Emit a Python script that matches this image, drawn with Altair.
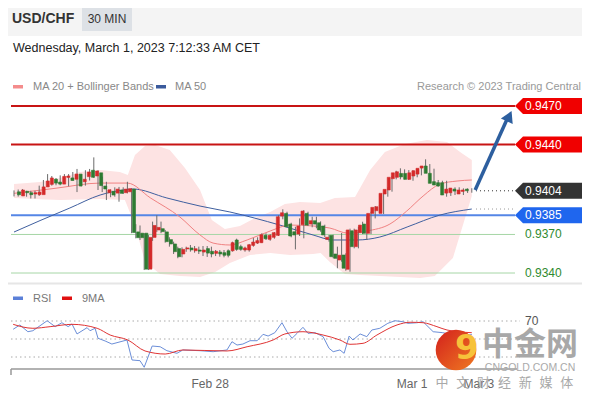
import altair as alt
import pandas as pd

FONT = "Liberation Sans"
CJK = "Noto Sans CJK SC"

pair = "USD/CHF"
timeframe = "30 MIN"
stamp = "Wednesday, March 1, 2023 7:12:33 AM CET"

# ---- 30-min candles (price quotes) ----
c_open = [0.94032, 0.94000, 0.94036, 0.94025, 0.94015, 0.94010, 0.94010, 0.94070, 0.94090, 0.94130,
          0.94108, 0.94092, 0.94144, 0.94140, 0.94130, 0.94170, 0.94110, 0.94150, 0.94200, 0.94155,
          0.94180, 0.94077, 0.94025, 0.94036, 0.94022, 0.94046, 0.94025, 0.94032, 0.94053, 0.93720,
          0.93710, 0.93710, 0.93430, 0.93677, 0.93735, 0.93745, 0.93720, 0.93660, 0.93626, 0.93590,
          0.93548, 0.93587, 0.93595, 0.93573, 0.93579, 0.93563, 0.93590, 0.93569, 0.93553, 0.93563,
          0.93558, 0.93573, 0.93573, 0.93657, 0.93605, 0.93579, 0.93579, 0.93615, 0.93633, 0.93636,
          0.93693, 0.93662, 0.93678, 0.93693, 0.93843, 0.93864, 0.93781, 0.93721, 0.93703, 0.93776,
          0.93864, 0.93781, 0.93807, 0.93791, 0.93766, 0.93662, 0.93693, 0.93548, 0.93501, 0.93540,
          0.93429, 0.93729, 0.93605, 0.93714, 0.93781, 0.93709, 0.93864, 0.93885, 0.93864, 0.94015,
          0.94046, 0.94134, 0.94145, 0.94175, 0.94175, 0.94129, 0.94155, 0.94170, 0.94217, 0.94233,
          0.94176, 0.94111, 0.94103, 0.94103, 0.94022, 0.94025, 0.94053, 0.94015, 0.94035, 0.94053]
c_high = [0.94043, 0.94050, 0.94054, 0.94040, 0.94040, 0.94040, 0.94080, 0.94124, 0.94170, 0.94155,
          0.94139, 0.94160, 0.94170, 0.94170, 0.94186, 0.94210, 0.94150, 0.94200, 0.94210, 0.94300,
          0.94200, 0.94150, 0.94110, 0.94050, 0.94067, 0.94070, 0.94067, 0.94110, 0.94060, 0.93780,
          0.93770, 0.93710, 0.93695, 0.93800, 0.93850, 0.93800, 0.93735, 0.93678, 0.93644, 0.93605,
          0.93600, 0.93605, 0.93618, 0.93610, 0.93605, 0.93610, 0.93610, 0.93605, 0.93579, 0.93579,
          0.93579, 0.93584, 0.93644, 0.93667, 0.93620, 0.93605, 0.93626, 0.93672, 0.93678, 0.93709,
          0.93709, 0.93703, 0.93719, 0.93851, 0.93896, 0.93877, 0.93791, 0.93760, 0.93825, 0.93890,
          0.93877, 0.93838, 0.93838, 0.93802, 0.93776, 0.93696, 0.93698, 0.93605, 0.93711, 0.93553,
          0.93745, 0.93745, 0.93760, 0.93799, 0.93843, 0.93877, 0.93921, 0.93929, 0.94025, 0.94067,
          0.94155, 0.94196, 0.94215, 0.94207, 0.94201, 0.94201, 0.94212, 0.94233, 0.94285, 0.94248,
          0.94212, 0.94124, 0.94118, 0.94118, 0.94061, 0.94067, 0.94067, 0.94059, 0.94059, 0.94060]
c_low = [0.93996, 0.93995, 0.94012, 0.93994, 0.93980, 0.93980, 0.94000, 0.94060, 0.94080, 0.94080,
         0.94083, 0.94083, 0.94120, 0.94075, 0.94120, 0.94030, 0.94075, 0.94080, 0.94120, 0.94140,
         0.94046, 0.94030, 0.93968, 0.93990, 0.93994, 0.93955, 0.94015, 0.94020, 0.93710, 0.93670,
         0.93657, 0.93423, 0.93423, 0.93650, 0.93720, 0.93710, 0.93636, 0.93605, 0.93548, 0.93515,
         0.93522, 0.93565, 0.93566, 0.93558, 0.93548, 0.93532, 0.93525, 0.93522, 0.93532, 0.93527,
         0.93522, 0.93522, 0.93566, 0.93573, 0.93573, 0.93566, 0.93566, 0.93605, 0.93626, 0.93633,
         0.93657, 0.93651, 0.93667, 0.93688, 0.93818, 0.93756, 0.93678, 0.93584, 0.93688, 0.93670,
         0.93766, 0.93756, 0.93748, 0.93721, 0.93678, 0.93644, 0.93515, 0.93437, 0.93488, 0.93418,
         0.93410, 0.93592, 0.93592, 0.93703, 0.93657, 0.93703, 0.93825, 0.93869, 0.93859, 0.93994,
         0.94033, 0.94129, 0.94129, 0.94129, 0.94124, 0.94118, 0.94145, 0.94160, 0.94201, 0.94165,
         0.94087, 0.94072, 0.94067, 0.93994, 0.94000, 0.94007, 0.94015, 0.94007, 0.94023, 0.94025]
c_close = [0.94009, 0.94046, 0.94025, 0.94010, 0.94025, 0.94030, 0.94070, 0.94116, 0.94140, 0.94100,
           0.94092, 0.94152, 0.94155, 0.94120, 0.94170, 0.94077, 0.94130, 0.94186, 0.94145, 0.94194,
           0.94080, 0.94054, 0.94048, 0.94007, 0.94053, 0.94020, 0.94053, 0.94056, 0.93715, 0.93675,
           0.93675, 0.93430, 0.93677, 0.93770, 0.93755, 0.93722, 0.93644, 0.93626, 0.93566, 0.93527,
           0.93584, 0.93595, 0.93580, 0.93589, 0.93570, 0.93579, 0.93555, 0.93548, 0.93569, 0.93548,
           0.93538, 0.93538, 0.93636, 0.93584, 0.93584, 0.93595, 0.93620, 0.93641, 0.93652, 0.93698,
           0.93667, 0.93693, 0.93714, 0.93838, 0.93869, 0.93760, 0.93688, 0.93696, 0.93766, 0.93882,
           0.93773, 0.93807, 0.93781, 0.93735, 0.93696, 0.93678, 0.93527, 0.93514, 0.93538, 0.93437,
           0.93735, 0.93605, 0.93735, 0.93773, 0.93709, 0.93864, 0.93911, 0.93916, 0.94020, 0.94051,
           0.94145, 0.94180, 0.94188, 0.94148, 0.94129, 0.94180, 0.94196, 0.94215, 0.94233, 0.94176,
           0.94098, 0.94085, 0.94077, 0.94007, 0.94053, 0.94061, 0.94038, 0.94046, 0.94046, 0.94040]

# ---- MA 20 + Bollinger Bands, MA 50 (read at sample candles) ----
band_idx = [0, 6.2, 11, 15.7, 20.5, 25.2, 27.1, 28.8, 31.2, 33.6, 37.1, 40.7, 44.3, 47.1, 50.2, 53.8,
            57.4, 61, 64.5, 68.1, 72.9, 76.4, 81.2, 84.8, 88.3, 93.1, 98.3, 103.1, 106.2, 109]
band_upper = [0.94092, 0.94108, 0.94139, 0.94186, 0.94201, 0.94186, 0.94162, 0.94318, 0.94388, 0.94396,
              0.94357, 0.94217, 0.94046, 0.93812, 0.93742, 0.93766, 0.93828, 0.93875, 0.93937, 0.93952,
              0.93945, 0.93984, 0.93991, 0.94201, 0.94341, 0.94404, 0.94435, 0.94419, 0.94341, 0.94279]
band_lower_idx = [0, 6.2, 11, 15.7, 20.5, 25.2, 26.4, 28.8, 31.2, 34.8, 39.5, 42, 44.3, 47.9, 51.4, 56.2,
                  58.5, 61, 65.7, 71.2, 73, 75.2, 78.8, 82.4, 87.1, 91.9, 96.7, 100.2, 104.5, 109]
band_lower = [0.93984, 0.93975, 0.93968, 0.93972, 0.93976, 0.93970, 0.93968, 0.93773, 0.93486, 0.93392,
              0.93377, 0.93372, 0.93369, 0.93408, 0.93478, 0.93540, 0.93548, 0.93556, 0.93540, 0.93548,
              0.93556, 0.93486, 0.93392, 0.93384, 0.93377, 0.93369, 0.93361, 0.93377, 0.93517, 0.93999]
ma20_idx = [0, 10, 20.5, 27, 32.5, 39.5, 44.3, 47.4, 51.4, 55.5, 61, 65.7, 71.2, 75.2, 79.5, 84,
            89.5, 93.5, 97.4, 101.4, 105.5, 109]
ma20_val = [0.94020, 0.94060, 0.94100, 0.94100, 0.93984, 0.93836, 0.93696, 0.93633, 0.93618, 0.93657,
            0.93727, 0.93773, 0.93766, 0.93750, 0.93710, 0.93727, 0.93781, 0.93882, 0.93999, 0.94092,
            0.94116, 0.94124]
ma50_idx = [0, 6.2, 13.3, 20.5, 26, 28.3, 36.4, 44.3, 51.4, 63.3, 71.2, 76, 81.7, 87.1, 93.6, 101.4, 109]
ma50_val = [0.93719, 0.93808, 0.93906, 0.94007, 0.94046, 0.94054, 0.93984, 0.93921, 0.93875, 0.93773,
            0.93696, 0.93657, 0.93657, 0.93680, 0.93758, 0.93851, 0.93898]

# ---- key levels ----
lvl_price = [0.9470, 0.9440, 0.9385, 0.9370, 0.9340]
lvl_label = ["0.9470", "0.9440", "0.9385", "0.9370", "0.9340"]
last_price = 0.9404
last_label = "0.9404"

arrow_idx = [109.8, 117.6]
arrow_price = [0.94046, 0.94612]
arrow_head = [117.9, 0.94621]

# ---- RSI panel ----
rsi_idx = [-0.2, 1.4, 3.3, 4.5, 7.9, 9.8, 11.4, 12.9, 13.8, 15, 17.4, 18.1, 19.3, 20, 21.7, 23.3, 26.9,
           28.1, 30, 31, 32.9, 34.8, 36.4, 38.8, 40.2, 44.3, 47.4, 50.7, 51.9, 53.1, 54.5, 56.2, 57.9,
           59.3, 60.5, 62.1, 63.8, 65, 66.2, 67.4, 68.8, 70, 71.7, 73.6, 75, 76, 77.6, 78.6, 79.8, 80.7,
           82.4, 84, 85.2, 87.1, 89, 90.7, 92.6, 93.8, 96, 97.4, 99.8, 102.1, 105, 109]
rsi_val = [60.8, 65.6, 58.1, 59.2, 70.3, 63.7, 68.1, 63.7, 66.7, 55.6, 62.6, 59.2, 61.9, 50.8, 47.8, 44.4,
           48.9, 26.7, 25.9, 18.6, 42.2, 41.4, 37.0, 34.1, 37.8, 37.0, 35.9, 37.8, 47.0, 43.3, 44.4, 48.1,
           48.1, 55.2, 53.3, 57.0, 68.1, 58.1, 50.8, 56.3, 63.0, 56.3, 57.0, 52.6, 39.7, 35.9, 37.8, 34.1,
           53.3, 48.9, 55.6, 52.6, 60.0, 61.9, 67.4, 70.3, 69.2, 67.4, 68.1, 69.2, 58.1, 57.0, 54.0, 55.0]
rsi_ma_idx = [-0.2, 4.5, 8.6, 13.8, 19.8, 22.9, 27.1, 31.2, 36, 40.2, 50.7, 55.5, 61.7, 64.5, 68.8,
              73.6, 77.6, 80, 83.1, 86.4, 91.2, 94.3, 97.4, 100.7, 103.1, 109]
rsi_ma_val = [66.3, 61.9, 63.7, 66.3, 61.9, 54.4, 48.9, 36.7, 33.3, 37.8, 36.7, 41.4, 48.9, 55.6, 58.1,
              54.4, 48.9, 44.1, 45.2, 54.4, 65.6, 68.6, 68.1, 63.7, 60.0, 57.0]
rsi_levels = [70, 50, 30]

x_label_idx = [46.7, 94.8, 110.7]
x_labels = ["Feb 28", "Mar 1", "Mar 3"]

wm_chars = ["中", "文", "财", "经", "新", "媒", "体"]

# ---------------- scales ----------------
XS = alt.Scale(domain=[0, 109], range=[14, 471.8], nice=False, zero=False)
PS = alt.Scale(domain=[0.9340, 0.9470], range=[273, 106], nice=False, zero=False)
RS = alt.Scale(domain=[30, 70], range=[357, 321], nice=False, zero=False)


def X(f):
    return alt.X(f, type="quantitative", scale=XS, axis=None)


def Y(f, s):
    return alt.Y(f, type="quantitative", scale=s, axis=None)


def one():
    return pd.DataFrame({"a": [0]})


def txt(s, x, y, size=11, color="#333", align="left", weight="normal", font=FONT, opacity=1.0):
    return alt.Chart(pd.DataFrame({"t": [s]})).mark_text(
        align=align, baseline="middle", fontSize=size, color=color, fontWeight=weight,
        font=font, opacity=opacity).encode(x=alt.value(x), y=alt.value(y), text="t:N")


def box(x1, x2, y1, y2, color):
    return alt.Chart(one()).mark_rect(color=color).encode(
        x=alt.value(x1), x2=alt.value(x2), y=alt.value(y1), y2=alt.value(y2))


def hline(x1, x2, y, color, w=1, dash=None):
    kw = dict(color=color, strokeWidth=w)
    if dash:
        kw["strokeDash"] = dash
    return alt.Chart(one()).mark_rule(**kw).encode(
        x=alt.value(x1), x2=alt.value(x2), y=alt.value(y))


layers = []

# header
layers += [
    box(0, 590, 0, 36, "#f4f4f4"),
    box(82, 132, 7, 31, "#dde1e6"),
    txt(pair, 12, 19, size=14, color="#333", weight="bold"),
    txt(timeframe, 107, 19, size=12, color="#333", align="center"),
    txt(stamp, 13, 48, size=12.5, color="#222"),
    box(13, 23, 85, 88.5, "#f48c8c"),
    txt("MA 20 + Bollinger Bands", 33, 86.5, size=11, color="#888"),
    box(156, 166, 85, 88.5, "#3a5a9c"),
    txt("MA 50", 175, 86.5, size=11, color="#888"),
    txt("Research \u00a9 2023 Trading Central", 581, 86.5, size=11, color="#999", align="right"),
]

# Bollinger band
bu = pd.DataFrame({"i": band_idx, "p": band_upper})
bl = pd.DataFrame({"i": band_lower_idx, "p": band_lower})
poly = pd.concat([bu, bl.iloc[::-1]], ignore_index=True)
poly["o"] = range(len(poly))
layers.append(alt.Chart(poly).mark_line(interpolate="linear", filled=True, color="#fde3e3",
                                        fill="#fde3e3", strokeWidth=0).encode(
    x=X("i"), y=Y("p", PS), order="o:Q"))

# key level lines
ldf = pd.DataFrame({"p": lvl_price,
                    "col": ["#c81414", "#c81414", "#5586e6", "#a6d6a6", "#a6d6a6"],
                    "w": [2, 2, 2, 1, 1]})
layers.append(alt.Chart(ldf).mark_rule().encode(
    x=alt.value(11), x2=alt.value(515), y=Y("p", PS),
    color=alt.Color("col:N", scale=None), strokeWidth=alt.StrokeWidth("w:Q", scale=None)))

# moving averages
layers.append(alt.Chart(pd.DataFrame({"i": ma50_idx, "p": ma50_val})).mark_line(
    color="#3f5f9f", strokeWidth=1, interpolate="monotone").encode(x=X("i"), y=Y("p", PS)))
layers.append(alt.Chart(pd.DataFrame({"i": ma20_idx, "p": ma20_val})).mark_line(
    color="#f08282", strokeWidth=1, interpolate="monotone").encode(x=X("i"), y=Y("p", PS)))

# candles
cdf = pd.DataFrame({"i": range(len(c_open)), "o": c_open, "h": c_high, "l": c_low, "c": c_close})
cdf["col"] = ["#d42a2a" if c >= o else "#2e7b32" for o, c in zip(c_open, c_close)]
layers.append(alt.Chart(cdf).mark_rule(color="#6b6b6b", strokeWidth=1).encode(
    x=X("i"), y=Y("l", PS), y2="h"))
layers.append(alt.Chart(cdf).mark_bar(size=3, strokeWidth=0.6).encode(
    x=X("i"), y=Y("o", PS), y2="c",
    color=alt.Color("col:N", scale=None), stroke=alt.Stroke("col:N", scale=None)))

# dotted extensions to the labels
layers.append(alt.Chart(pd.DataFrame({"p": [last_price, ma50_val[-1]], "col": ["#333", "#999"]}))
              .mark_rule(strokeDash=[1, 3], strokeWidth=1).encode(
    x=alt.value(476), x2=alt.value(515), y=Y("p", PS), color=alt.Color("col:N", scale=None)))

# projection arrow
layers.append(alt.Chart(pd.DataFrame({"i": arrow_idx, "p": arrow_price})).mark_line(
    color="#2d5f9f", strokeWidth=3.5).encode(x=X("i"), y=Y("p", PS)))
layers.append(alt.Chart(pd.DataFrame({"i": [arrow_head[0]], "p": [arrow_head[1]]})).mark_point(
    shape="triangle-up", angle=25, size=170, filled=True, color="#2d5f9f", opacity=1).encode(
    x=X("i"), y=Y("p", PS)))

# price tags
TAG = "M0,0L1,-1L9,-1L9,1L1,1Z"
tdf = pd.DataFrame({"p": [lvl_price[0], lvl_price[1], last_price, lvl_price[2]],
                    "t": [lvl_label[0], lvl_label[1], last_label, lvl_label[2]],
                    "col": ["#f00000", "#f00000", "#333333", "#1f66ee"]})
layers.append(alt.Chart(tdf).mark_point(shape=TAG, size=256, filled=True, opacity=1, strokeWidth=0).encode(
    x=alt.value(515), y=Y("p", PS), color=alt.Color("col:N", scale=None)))
layers.append(alt.Chart(tdf).mark_text(align="left", baseline="middle", fontSize=12, font=FONT,
                                       color="white").encode(
    x=alt.value(525), y=Y("p", PS), text="t:N"))
layers.append(alt.Chart(pd.DataFrame({"p": lvl_price[3:], "t": lvl_label[3:]})).mark_text(
    align="left", baseline="middle", fontSize=12, font=FONT, color="#2f8a2f").encode(
    x=alt.value(525), y=Y("p", PS), text="t:N"))

# panel separators
layers += [hline(0, 590, 283.5, "#e6e6e6", 2), hline(0, 590, 397.5, "#e6e6e6", 2)]

# RSI panel
layers += [
    box(13, 23, 296.5, 300, "#5b80d8"),
    txt("RSI", 33, 298.5, size=11, color="#777"),
    box(62, 72, 296.5, 300, "#e01010"),
    txt("9MA", 82, 298.5, size=11, color="#777"),
]
layers.append(alt.Chart(pd.DataFrame({"v": rsi_levels})).mark_rule(
    strokeDash=[1.5, 3], color="#aaa", strokeWidth=1).encode(
    x=alt.value(11), x2=alt.value(520), y=Y("v", RS)))
layers.append(txt("70", 525, 321, size=12, color="#555"))
layers.append(alt.Chart(pd.DataFrame({"i": rsi_idx, "v": rsi_val})).mark_line(
    color="#6b8ed8", strokeWidth=1).encode(x=X("i"), y=Y("v", RS)))
layers.append(alt.Chart(pd.DataFrame({"i": rsi_ma_idx, "v": rsi_ma_val})).mark_line(
    color="#e03434", strokeWidth=1, interpolate="monotone").encode(x=X("i"), y=Y("v", RS)))

# time axis
layers.append(hline(11, 517, 369, "#999", 1.5))
layers.append(alt.Chart(one()).mark_rule(color="#999", strokeWidth=1.5).encode(
    x=alt.value(11), y=alt.value(369), y2=alt.value(375)))
layers.append(alt.Chart(pd.DataFrame({"i": x_label_idx, "t": x_labels})).mark_text(
    align="center", baseline="middle", fontSize=12, font=FONT, color="#666").encode(
    x=X("i"), y=alt.value(383.5), text="t:N"))

# watermark
logo_fill = alt.Gradient(gradient="linear", x1=0, y1=0, x2=1, y2=1,
                         stops=[alt.GradientStop(offset=0, color="#d3201c"),
                                alt.GradientStop(offset=1, color="#ef7a22")])
layers.append(alt.Chart(one()).mark_point(shape="circle", filled=True, size=1650, color=logo_fill,
                                          opacity=1, strokeWidth=0).encode(
    x=alt.value(456), y=alt.value(350)))
layers.append(txt("9", 455, 349, size=34, color="#f7c23a", weight="bold", font="DejaVu Sans"))
layers.append(txt("中金网", 530, 345, size=32, color="#9a9a9a", align="center", weight="bold",
                  font=CJK, opacity=0.85))
layers.append(txt("CNGOLD.COM.CN", 530, 368, size=10.5, color="#aaaaaa", align="center"))
for k, ch in enumerate(wm_chars):
    layers.append(txt(ch, 442 + 20.8 * k, 383, size=13, color="#a0a0a0", align="center",
                      font=CJK, opacity=0.9))

chart = alt.layer(*layers).resolve_scale(x="independent", y="independent").properties(
    width=582, height=392,
    padding={"left": -8, "top": -8, "right": 0, "bottom": 0},
    autosize=alt.AutoSizeParams(type="none"),
    background="white",
).configure_view(stroke=None)

chart.save("out.html", embed_options={"renderer": "svg", "actions": False})
